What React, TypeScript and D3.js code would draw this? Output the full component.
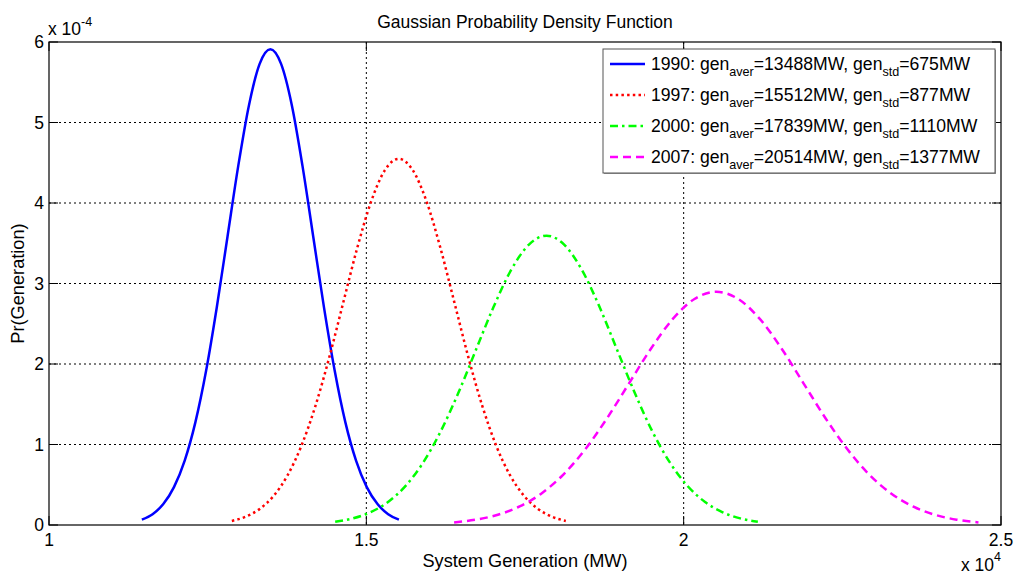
import React from 'react';
import * as d3 from 'd3';

const title = 'Gaussian Probability Density Function';
const xLabel = 'System Generation (MW)';
const yLabel = 'Pr(Generation)';

const years = ['1990', '1997', '2000', '2007'];
const avers = ['13488', '15512', '17839', '20514'];
const stds = ['675', '877', '1110', '1377'];
const colors = ['#0000ff', '#ff0000', '#00ff00', '#ff00ff'];
const dashes = ['none', '2.5 3.2', '8 4 2.5 4', '8 5'];

const xTicks = [10000, 15000, 20000, 25000];
const xTickLabels = ['1', '1.5', '2', '2.5'];
const yTicks = [0, 1, 2, 3, 4, 5, 6];

// values in units of 1e-4
const x1990 = [11463, 11632, 11801, 11969, 12138, 12307, 12476, 12644, 12813, 12982, 13151, 13319, 13488, 13657, 13826, 13994, 14163, 14332, 14501, 14669, 14838, 15007, 15176, 15344, 15513];
const y1990 = [0.0657, 0.1347, 0.2597, 0.4702, 0.7999, 1.2782, 1.9187, 2.7058, 3.5846, 4.4611, 5.2156, 5.7282, 5.910, 5.7282, 5.2156, 4.4611, 3.5846, 2.7058, 1.9187, 1.2782, 0.7999, 0.4702, 0.2597, 0.1347, 0.0657];

const x1997 = [12881, 13100, 13320, 13539, 13758, 13977, 14197, 14416, 14635, 14854, 15074, 15293, 15512, 15731, 15951, 16170, 16389, 16608, 16828, 17047, 17266, 17485, 17705, 17924, 18143];
const y1997 = [0.0505, 0.1037, 0.1999, 0.3619, 0.6157, 0.9838, 1.4768, 2.0827, 2.7591, 3.4338, 4.0145, 4.4090, 4.549, 4.4090, 4.0145, 3.4338, 2.7591, 2.0827, 1.4768, 0.9838, 0.6157, 0.3619, 0.1999, 0.1037, 0.0505];

const x2000 = [14509, 14787, 15064, 15342, 15619, 15897, 16174, 16452, 16729, 17007, 17284, 17562, 17839, 18117, 18394, 18672, 18949, 19227, 19504, 19782, 20059, 20337, 20614, 20892, 21169];
const y2000 = [0.0399, 0.0819, 0.1579, 0.2859, 0.4864, 0.7773, 1.1668, 1.6454, 2.1799, 2.7129, 3.1717, 3.4834, 3.594, 3.4834, 3.1717, 2.7129, 2.1799, 1.6454, 1.1668, 0.7773, 0.4864, 0.2859, 0.1579, 0.0819, 0.0399];

const x2007 = [16383, 16727, 17072, 17416, 17760, 18104, 18449, 18793, 19137, 19481, 19826, 20170, 20514, 20858, 21203, 21547, 21891, 22235, 22580, 22924, 23268, 23612, 23957, 24301, 24645];
const y2007 = [0.0322, 0.0661, 0.1273, 0.2305, 0.3921, 0.6265, 0.9405, 1.3263, 1.7571, 2.1868, 2.5566, 2.8079, 2.897, 2.8079, 2.5566, 2.1868, 1.7571, 1.3263, 0.9405, 0.6265, 0.3921, 0.2305, 0.1273, 0.0661, 0.0322];

const seriesX = [x1990, x1997, x2000, x2007];
const seriesY = [y1990, y1997, y2000, y2007];

const W = 1016;
const H = 575;
const L = 49, R = 1001, T = 42, B = 525;
const FONT = '"Liberation Sans", Arial, Helvetica, sans-serif';

export default function App() {
  const x = d3.scaleLinear().domain([10000, 25000]).range([L, R]);
  const y = d3.scaleLinear().domain([0, 6]).range([B, T]);
  const line = d3
    .line<[number, number]>()
    .x((d) => x(d[0]))
    .y((d) => y(d[1]))
    .curve(d3.curveMonotoneX);
  const tick = 9;

  const legX = 603, legY = 49, legW = 392, legH = 124;
  const rowH = 31;

  return (
    <svg
      width={W}
      height={H}
      style={{ position: 'absolute', left: 0, top: 0, background: '#fff' }}
      fontFamily={FONT}
    >
      <rect x={0} y={0} width={W} height={H} fill="#fff" />
      {/* grid */}
      {xTicks.slice(1, -1).map((t) => (
        <line key={'gx' + t} x1={x(t)} x2={x(t)} y1={T} y2={B} stroke="#000" strokeWidth={1} strokeDasharray="2 3" />
      ))}
      {yTicks.slice(1, -1).map((t) => (
        <line key={'gy' + t} x1={L} x2={R} y1={y(t)} y2={y(t)} stroke="#000" strokeWidth={1} strokeDasharray="2 3" />
      ))}
      {/* ticks */}
      {xTicks.map((t) => (
        <g key={'tx' + t}>
          <line x1={x(t)} x2={x(t)} y1={B} y2={B - tick} stroke="#000" />
          <line x1={x(t)} x2={x(t)} y1={T} y2={T + tick} stroke="#000" />
        </g>
      ))}
      {yTicks.map((t) => (
        <g key={'ty' + t}>
          <line x1={L} x2={L + tick} y1={y(t)} y2={y(t)} stroke="#000" />
          <line x1={R} x2={R - tick} y1={y(t)} y2={y(t)} stroke="#000" />
        </g>
      ))}
      {/* curves */}
      {seriesX.map((xs, i) => (
        <path
          key={'c' + i}
          d={line(xs.map((v, j) => [v, seriesY[i][j]] as [number, number])) || ''}
          fill="none"
          stroke={colors[i]}
          strokeWidth={2.5}
          strokeDasharray={dashes[i]}
        />
      ))}
      {/* box */}
      <rect x={L} y={T} width={R - L} height={B - T} fill="none" stroke="#000" strokeWidth={1.2} />
      {/* tick labels */}
      {xTicks.map((t, i) => (
        <text key={'lx' + t} x={x(t)} y={546} textAnchor="middle" fontSize={17.5} fill="#000">
          {xTickLabels[i]}
        </text>
      ))}
      {yTicks.map((t) => (
        <text key={'ly' + t} x={L - 5} y={y(t) + 6} textAnchor="end" fontSize={17.5} fill="#000">
          {t}
        </text>
      ))}
      {/* exponents */}
      <text x={48} y={35} fontSize={17.5} fill="#000">
        x 10<tspan dy={-9} fontSize={12.5}>-4</tspan>
      </text>
      <text x={961} y={571} fontSize={17.5} fill="#000">
        x 10<tspan dy={-10} fontSize={12.5}>4</tspan>
      </text>
      {/* title and labels */}
      <text x={(L + R) / 2} y={28} textAnchor="middle" fontSize={17.5} fill="#000">
        {title}
      </text>
      <text x={(L + R) / 2} y={567} textAnchor="middle" fontSize={18.2} fill="#000">
        {xLabel}
      </text>
      <text
        transform={`translate(24, ${(T + B) / 2}) rotate(-90)`}
        textAnchor="middle"
        fontSize={18.2}
        fill="#000"
      >
        {yLabel}
      </text>
      {/* legend */}
      <rect x={legX + 1} y={legY + 1} width={legW} height={legH} fill="#999" />
      <rect x={legX} y={legY} width={legW} height={legH} fill="#fff" stroke="#555" strokeWidth={1} />
      {years.map((yr, i) => {
        const cy = legY + 15 + i * rowH;
        return (
          <g key={'leg' + i}>
            <line
              x1={610}
              x2={645}
              y1={cy}
              y2={cy}
              stroke={colors[i]}
              strokeWidth={2.5}
              strokeDasharray={dashes[i]}
            />
            <text x={651} y={cy + 6} fontSize={17.6} fill="#000">
              {yr}: gen
              <tspan dy={6} fontSize={12.6}>aver</tspan>
              <tspan dy={-6}>={avers[i]}MW, gen</tspan>
              <tspan dy={6} fontSize={12.6}>std</tspan>
              <tspan dy={-6}>={stds[i]}MW</tspan>
            </text>
          </g>
        );
      })}
    </svg>
  );
}
